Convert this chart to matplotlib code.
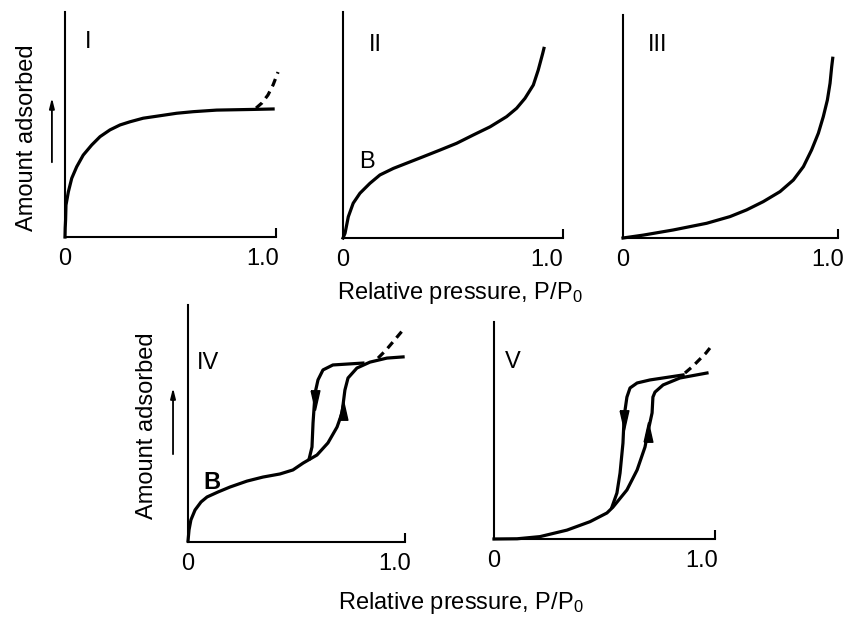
import matplotlib
matplotlib.use("Agg")
from matplotlib import pyplot as plt

plt.rcParams["font.family"] = ["Liberation Sans", "DejaVu Sans"]
plt.rcParams["mathtext.fontset"] = "custom"
plt.rcParams["mathtext.rm"] = "Liberation Sans"
plt.rcParams["mathtext.it"] = "Liberation Sans"

# Type I
i_x = [0, .001, .003, .005, .017, .034, .059, .092, .135, .177, .227, .278, .328, .395, .480, .564, .648, .766, .949, 1.051]
i_y = [0, .040, .076, .142, .201, .261, .312, .364, .409, .446, .476, .498, .512, .528, .539, .550, .557, .564, .567, .569]
i_dash_x = [.965, .995, 1.025, 1.051, 1.076]
i_dash_y = [.573, .596, .631, .676, .733]

# Type II
ii_x = [0, .010, .026, .050, .083, .132, .181, .247, .312, .394, .475, .557, .639, .721, .802, .851, .892, .933, .957, .979, .985]
ii_y = [0, .021, .094, .154, .198, .242, .279, .308, .331, .360, .389, .419, .456, .492, .537, .574, .618, .677, .743, .817, .839]

# Type III
iii_x = [0, .099, .245, .408, .522, .603, .684, .766, .831, .880, .920, .953, .977, .997, 1.010, 1.018, 1.023]
iii_y = [0, .013, .036, .066, .096, .126, .163, .208, .260, .320, .395, .470, .544, .619, .694, .768, .806]

# Type IV
iv_ads_x = [0, .005, .014, .034, .063, .092, .145, .203, .285, .362, .444, .507, .556, .623, .676, .720, .744, .758, .773, .816, .879, .961, 1.039]
iv_ads_y = [.004, .051, .093, .135, .169, .190, .211, .232, .257, .274, .287, .304, .333, .367, .418, .485, .544, .641, .692, .734, .759, .776, .781]
iv_des_x = [.845, .700, .652, .628, .614, .604, .599, .585]
iv_des_y = [.755, .747, .726, .684, .629, .502, .401, .350]
iv_dash_x = [.918, .957, .990, 1.014, 1.039]
iv_dash_y = [.776, .810, .844, .869, .895]
iv_arrows = [(.614, .599, "down"), (.747, .557, "up")]

# Type V
v_ads_x = [0, .111, .221, .351, .462, .543, .572, .639, .688, .726, .740, .760, .764, .774, .813, .894, 1.024]
v_ads_y = [0, .001, .011, .041, .080, .120, .147, .226, .318, .424, .493, .581, .654, .677, .710, .742, .765]
v_des_x = [.909, .750, .688, .654, .639, .630, .625, .620, .606, .591, .567]
v_des_y = [.756, .733, .719, .696, .654, .594, .548, .442, .304, .212, .147]
v_dash_x = [.918, .957, .990, 1.019, 1.038]
v_dash_y = [.765, .797, .829, .857, .880]
v_arrows = [(.625, .548, "down"), (.740, .493, "up")]

W, H = 847, 624
FS = 17
LW = 2.3

fig = plt.figure(figsize=(W / 100, H / 100), dpi=100)


def make_axes(left, top, right, bottom, px_per_unit):
    ax = fig.add_axes([left / W, (H - bottom) / H, (right - left) / W, (bottom - top) / H])
    xmax = (right - left) / px_per_unit
    ax.set_xlim(0, xmax)
    ax.set_ylim(0, 1)
    for s in ("top", "right"):
        ax.spines[s].set_visible(False)
    for s in ("left", "bottom"):
        ax.spines[s].set_linewidth(1.5)
    ax.set_yticks([])
    ax.set_xticks([0, 1.0])
    ax.set_xticklabels(["0", "1.0"], fontsize=FS)
    ax.tick_params(axis="x", length=0, pad=8)
    ax.set_xticks([xmax], minor=True)
    ax.tick_params(axis="x", which="minor", direction="in", length=6.5, width=1.5)
    ax.patch.set_alpha(0)
    return ax


def arrowheads(ax, arrows):
    for x, y, d in arrows:
        if d == "down":
            m = [(-0.45, 1), (0.45, 1), (0, -1), (-0.45, 1)]
        else:
            m = [(-0.45, -1), (0.45, -1), (0, 1), (-0.45, -1)]
        ax.plot([x], [y], marker=m, markersize=14, color="black", linestyle="none")


def ylabel_with_arrow(ax, xlab, ylab, xarr, y0, y1):
    ax.text(xlab, ylab, "Amount adsorbed", rotation=90, fontsize=FS,
            ha="center", va="center", transform=ax.transAxes)
    ax.annotate("", xy=(xarr, y1), xytext=(xarr, y0),
                xycoords="axes fraction", textcoords="axes fraction",
                arrowprops=dict(arrowstyle="-|>,head_length=0.6,head_width=0.15",
                                color="black", lw=1.3))


# Panel I
ax1 = make_axes(65, 12, 276, 237, 198)
ax1.plot(i_x, i_y, color="black", lw=LW, clip_on=False)
ax1.plot(i_dash_x, i_dash_y, color="black", lw=LW, ls=(0, (2.5, 1.8)), clip_on=False)
ax1.text(.116, .867, "I", fontsize=FS, ha="center", va="center")
ylabel_with_arrow(ax1, -0.18, 0.44, -0.062, 0.32, 0.631)

# Panel II
ax2 = make_axes(343, 12, 563, 238, 204)
ax2.plot(ii_x, ii_y, color="black", lw=LW, clip_on=False)
ax2.text(.157, .854, "II", fontsize=FS, ha="center", va="center")
ax2.text(.118, .336, "B", fontsize=FS, ha="center", va="center")
ax2.text(0.53, -0.245, "Relative pressure, P/P$_0$", fontsize=FS,
         ha="center", va="center", transform=ax2.transAxes)

# Panel III
ax3 = make_axes(623, 15, 838, 238, 205)
ax3.plot(iii_x, iii_y, color="black", lw=LW, clip_on=False)
ax3.text(.171, .865, "III", fontsize=FS, ha="center", va="center")

# Panel IV
ax4 = make_axes(188, 305, 405, 542, 207)
ax4.plot(iv_ads_x, iv_ads_y, color="black", lw=LW, clip_on=False)
ax4.plot(iv_des_x, iv_des_y, color="black", lw=LW, clip_on=False)
ax4.plot(iv_dash_x, iv_dash_y, color="black", lw=LW, ls=(0, (2.5, 1.8)), clip_on=False)
arrowheads(ax4, iv_arrows)
ax4.text(.097, .755, "IV", fontsize=FS, ha="center", va="center")
ax4.text(.116, .253, "B", fontsize=FS, ha="center", va="center", fontweight="bold")
ylabel_with_arrow(ax4, -0.189, 0.49, -0.069, 0.359, 0.662)

# Panel V
ax5 = make_axes(494, 322, 715, 539, 208)
ax5.plot(v_ads_x, v_ads_y, color="black", lw=LW, clip_on=False)
ax5.plot(v_des_x, v_des_y, color="black", lw=LW, clip_on=False)
ax5.plot(v_dash_x, v_dash_y, color="black", lw=LW, ls=(0, (2.5, 1.8)), clip_on=False)
arrowheads(ax5, v_arrows)
ax5.text(.091, .816, "V", fontsize=FS, ha="center", va="center")

fig.text(461 / W, (H - 603) / H, "Relative pressure, P/P$_0$", fontsize=FS,
         ha="center", va="center")

fig.savefig("out.png", dpi=100)
